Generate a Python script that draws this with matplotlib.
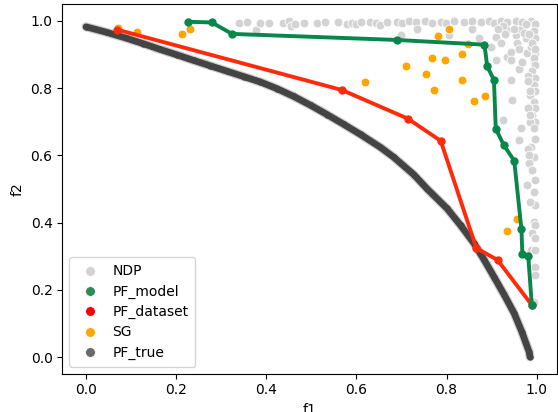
import matplotlib
matplotlib.use("Agg")
import matplotlib.pyplot as plt
from matplotlib.lines import Line2D

# ---- data ----
pf_model_f1 = [0.226, 0.279, 0.324, 0.689, 0.884, 0.890, 0.905, 0.909, 0.927, 0.950, 0.966, 0.968, 0.981, 0.989]
pf_model_f2 = [0.997, 0.995, 0.961, 0.943, 0.929, 0.865, 0.824, 0.679, 0.630, 0.584, 0.380, 0.307, 0.302, 0.155]

pf_dataset_f1 = [0.068, 0.568, 0.714, 0.787, 0.866, 0.913, 0.989]
pf_dataset_f2 = [0.974, 0.794, 0.709, 0.643, 0.324, 0.289, 0.155]

sg_f1 = [0.070, 0.113, 0.213, 0.231, 0.781, 0.806, 0.847, 0.834, 0.767, 0.797, 0.710, 0.755,
         0.834, 0.618, 0.773, 0.861, 0.886, 0.957, 0.933]
sg_f2 = [0.979, 0.966, 0.961, 0.975, 0.954, 0.975, 0.930, 0.902, 0.888, 0.884, 0.865, 0.841,
         0.824, 0.819, 0.795, 0.762, 0.776, 0.411, 0.376]

ndp_f1 = [0.339, 0.357, 0.376, 0.385, 0.405, 0.438, 0.450, 0.455, 0.464, 0.483, 0.513, 0.531,
          0.559, 0.578, 0.590, 0.600, 0.609, 0.630, 0.644, 0.652, 0.668, 0.690, 0.698, 0.702,
          0.716, 0.733, 0.735, 0.753, 0.768, 0.787, 0.798, 0.805, 0.816, 0.838, 0.857, 0.857,
          0.872, 0.876, 0.894, 0.898, 0.905, 0.909, 0.909, 0.920, 0.920, 0.935, 0.935, 0.935,
          0.942, 0.942, 0.942, 0.946, 0.953, 0.953, 0.957, 0.961, 0.964, 0.968, 0.968, 0.976,
          0.979, 0.987, 0.987, 0.990, 0.994, 0.995,
          0.995, 0.993, 0.995, 0.990, 0.995, 0.993, 0.995, 0.990, 0.995, 0.980, 0.993, 0.995,
          0.985, 0.993, 0.995, 0.980, 0.990, 0.995, 0.985, 0.993, 0.964, 0.961, 0.924, 0.987,
          0.994, 0.983, 0.995, 0.990, 0.979, 0.995, 0.993, 0.995, 0.985, 0.993, 0.995, 0.990,
          0.995, 0.987, 0.995, 0.995, 0.995, 0.994, 0.980, 0.985, 0.980, 0.985, 0.980, 0.983,
          0.925, 0.950, 0.972, 0.960, 0.982, 0.915, 0.930, 0.975]
ndp_f2 = [0.992, 0.995, 0.972, 0.993, 0.993, 0.993, 0.998, 0.985, 0.990, 0.993, 0.993, 0.995,
          0.996, 0.990, 0.993, 0.990, 0.997, 0.995, 0.992, 0.988, 0.995, 0.997, 0.957, 0.993,
          0.998, 0.995, 0.977, 0.998, 0.993, 0.997, 0.992, 0.958, 0.998, 0.995, 0.977, 0.998,
          0.948, 0.996, 0.998, 0.923, 0.993, 0.952, 0.883, 0.998, 0.933, 0.972, 0.893, 0.995,
          0.908, 0.883, 0.824, 0.764, 0.958, 0.998, 0.933, 0.858, 0.977, 0.995, 0.878, 0.948,
          0.903, 0.923, 0.998, 0.963, 0.873, 0.903,
          0.990, 0.970, 0.950, 0.935, 0.915, 0.890, 0.870, 0.850, 0.830, 0.835, 0.810, 0.790,
          0.780, 0.760, 0.740, 0.745, 0.720, 0.700, 0.700, 0.680, 0.680, 0.645, 0.705, 0.626,
          0.596, 0.576, 0.650, 0.555, 0.512, 0.527, 0.490, 0.452, 0.460, 0.403, 0.393, 0.368,
          0.355, 0.319, 0.319, 0.269, 0.244, 0.165, 0.820, 0.790, 0.740, 0.720, 0.620, 0.600,
          0.985, 0.975, 0.965, 0.915, 0.960, 0.975, 0.960, 0.990]

pf_true_f1 = [0.000, 0.045, 0.090, 0.127, 0.164, 0.201, 0.239, 0.276, 0.313, 0.350, 0.387,
              0.424, 0.461, 0.498, 0.535, 0.572, 0.609, 0.653, 0.683, 0.727, 0.757, 0.801,
              0.831, 0.861, 0.883, 0.905, 0.928, 0.950, 0.967, 0.983, 0.985]
pf_true_f2 = [0.982, 0.966, 0.948, 0.932, 0.915, 0.899, 0.882, 0.866, 0.850, 0.834, 0.818,
              0.798, 0.775, 0.749, 0.721, 0.692, 0.662, 0.624, 0.594, 0.543, 0.500, 0.442,
              0.392, 0.338, 0.290, 0.239, 0.185, 0.130, 0.075, 0.016, 0.001]

labels = ["NDP", "PF_model", "PF_dataset", "SG", "PF_true"]
legend_colors = ["lightgray", "seagreen", "red", "orange", "dimgray"]

# ---- plot ----
fig = plt.figure(figsize=(5.58, 4.12), dpi=100)
ax = fig.add_axes([0.1117, 0.0930, 0.8866, 0.8966])

ax.scatter(ndp_f1, ndp_f2, s=40, color="lightgray", edgecolors="white", linewidths=0.6, zorder=1)

ax.plot(pf_true_f1, pf_true_f2, color="#5a5a5a", lw=6.5, alpha=0.3, solid_capstyle="round", zorder=2)
ax.plot(pf_true_f1, pf_true_f2, color="#444444", lw=4.8, solid_capstyle="round", zorder=2)
ax.scatter(pf_true_f1, pf_true_f2, s=12, color="#444444", zorder=2)

ax.scatter(sg_f1, sg_f2, s=40, color="orange", edgecolors="white", linewidths=0.6, zorder=3)

ax.plot(pf_dataset_f1, pf_dataset_f2, color="#ff2a0a", lw=2.8, marker="o", ms=5, zorder=4)
ax.plot(pf_model_f1, pf_model_f2, color="#08874a", lw=2.8, marker="o", ms=5, zorder=5)

ax.set_xlim(-0.0526, 1.045)
ax.set_ylim(-0.049, 1.049)
ax.set_xticks([0.0, 0.2, 0.4, 0.6, 0.8, 1.0])
ax.set_yticks([0.0, 0.2, 0.4, 0.6, 0.8, 1.0])
ax.set_xlabel("f1")
ax.set_ylabel("f2")

handles = [Line2D([], [], linestyle="none", marker="o", ms=7, color=c, markeredgecolor="white",
                  markeredgewidth=0.5) for c in legend_colors]
ax.legend(handles, labels, loc="lower left", borderpad=0.5, labelspacing=0.45, handletextpad=0.6)

fig.savefig("out.png", dpi=100)
